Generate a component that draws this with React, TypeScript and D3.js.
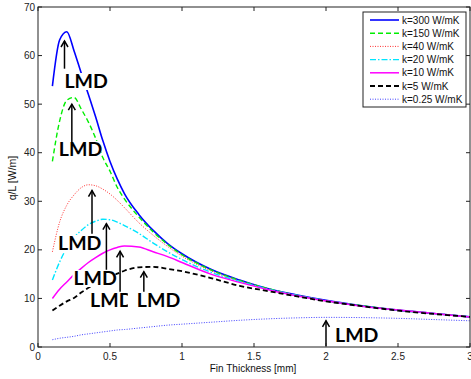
import * as d3 from 'd3';

const thickness = [0.1, 0.15, 0.2, 0.25, 0.3, 0.35, 0.4, 0.45, 0.5, 0.55, 0.6, 0.7, 0.8, 0.9, 1.0, 1.2, 1.4, 1.6, 1.8, 2.0, 2.25, 2.5, 2.75, 3.0];

const k300 = [53.7, 63.2, 64.9, 61.0, 56.4, 52.0, 47.4, 42.5, 38.2, 34.6, 31.6, 27.3, 24.0, 21.3, 19.2, 16.0, 13.8, 12.0, 10.7, 9.6, 8.5, 7.6, 6.9, 6.2];
const k150 = [38.2, 46.5, 50.8, 51.4, 49.0, 46.3, 43.0, 39.0, 36.2, 32.9, 30.5, 26.8, 23.7, 21.1, 19.0, 15.9, 13.7, 12.0, 10.6, 9.5, 8.5, 7.6, 6.9, 6.2];
const k40 = [19.6, 25.7, 29.2, 31.3, 32.8, 33.4, 33.2, 32.5, 31.5, 30.2, 28.7, 25.6, 23.0, 20.7, 18.7, 15.7, 13.6, 11.9, 10.6, 9.5, 8.4, 7.6, 6.9, 6.2];
const k20 = [13.8, 17.5, 20.4, 22.5, 24.0, 25.2, 25.9, 26.3, 26.2, 25.7, 25.0, 23.4, 21.4, 19.6, 18.0, 15.4, 13.5, 11.9, 10.6, 9.5, 8.4, 7.6, 6.9, 6.2];
const k10 = [10.0, 11.9, 13.4, 14.9, 16.2, 17.4, 18.4, 19.3, 20.0, 20.5, 20.8, 20.6, 19.6, 18.6, 17.4, 15.0, 13.3, 11.8, 10.5, 9.5, 8.4, 7.6, 6.9, 6.2];
const k5 = [7.5, 8.5, 9.4, 10.1, 11.2, 12.2, 13.0, 13.8, 14.5, 15.1, 15.7, 16.4, 16.5, 16.1, 15.6, 14.2, 12.6, 11.5, 10.4, 9.4, 8.4, 7.5, 6.8, 6.2];
const k025 = [1.5, 1.8, 2.0, 2.2, 2.5, 2.7, 2.9, 3.1, 3.3, 3.5, 3.6, 3.9, 4.2, 4.5, 4.7, 5.1, 5.5, 5.8, 6.0, 6.1, 6.05, 5.9, 5.65, 5.4];

const seriesLabels = ['k=300 W/mK', 'k=150 W/mK', 'k=40 W/mK', 'k=20 W/mK', 'k=10 W/mK', 'k=5 W/mK', 'k=0.25 W/mK'];
const seriesValues = [k300, k150, k40, k20, k10, k5, k025];

const xTicks = [0, 0.5, 1, 1.5, 2, 2.5, 3];
const yTicks = [0, 10, 20, 30, 40, 50, 60, 70];

// LMD markers: thickness, q/L at arrow tip and at arrow base
const lmdX = [0.184, 0.235, 0.375, 0.475, 0.57, 0.735, 2.0];
const lmdTip = [63.0, 50.0, 32.2, 25.4, 19.7, 15.5, 5.4];
const lmdBase = [57.3, 42.0, 23.3, 15.9, 11.4, 11.4, 0.2];

const STYLES = [
  { color: '#0000ff', width: 1.6, dash: '' },
  { color: '#00ee00', width: 1.4, dash: '5,3' },
  { color: '#ff3030', width: 1, dash: '1,1.5' },
  { color: '#00e5ff', width: 1.4, dash: '6,2,1.5,2' },
  { color: '#ff00ff', width: 1.5, dash: '' },
  { color: '#000000', width: 1.8, dash: '5,3' },
  { color: '#4040ff', width: 1, dash: '1,1.5' },
];

// text placement relative to each arrow: text left offset, baseline y, white box left pad
const LABEL_POS = [
  { dx: 0, y: 88, pad: 1 },
  { dx: -13, y: 156, pad: 1 },
  { dx: -34, y: 250, pad: 1 },
  { dx: -33, y: 285, pad: 1 },
  { dx: -30, y: 307, pad: 1 },
  { dx: -7, y: 307, pad: 9 },
  { dx: 9, y: 342, pad: 1 },
];

export default function App() {
  const W = 471;
  const H = 379;
  const margin = { left: 38, right: 1, top: 7, bottom: 32 };
  const x = d3.scaleLinear().domain([0, 3]).range([margin.left, W - margin.right]);
  const y = d3.scaleLinear().domain([0, 70]).range([H - margin.bottom, margin.top]);
  const x0 = margin.left;
  const x1 = W - margin.right;
  const y0 = H - margin.bottom;
  const y1 = margin.top;

  const line = d3
    .line<number>()
    .x((_, i) => x(thickness[i]))
    .y((d) => y(d))
    .curve(d3.curveMonotoneX);

  const font = 'Liberation Sans, Arial, sans-serif';

  return (
    <svg
      width={W}
      height={H}
      style={{ position: 'absolute', left: 0, top: 0, background: '#fff' }}
      fontFamily={font}
    >
      <defs>
        <clipPath id="plot">
          <rect x={x0} y={y1} width={x1 - x0} height={y0 - y1} />
        </clipPath>
      </defs>

      {/* curves */}
      <g clipPath="url(#plot)">
        {seriesValues.map((vals, i) => (
          <path
            key={i}
            d={line(vals) ?? ''}
            fill="none"
            stroke={STYLES[i].color}
            strokeWidth={STYLES[i].width}
            strokeDasharray={STYLES[i].dash}
          />
        ))}
      </g>

      {/* LMD arrows + labels */}
      {lmdX.map((t, i) => {
        const ax = x(t);
        const tip = y(lmdTip[i]);
        const base = y(lmdBase[i]);
        const lp = LABEL_POS[i];
        return (
          <g key={i}>
            <rect x={ax + lp.dx - lp.pad} y={lp.y - 15} width={42 + lp.pad} height={17} fill="#fff" />
            <text x={ax + lp.dx} y={lp.y} fontFamily="Lato, sans-serif" fontWeight="bold" fontSize={19.5} fill="#000">
              LMD
            </text>
            <line x1={ax} x2={ax} y1={tip} y2={base} stroke="#000" strokeWidth={1.5} />
            <path d={`M${ax - 3.5},${tip + 6} L${ax},${tip} L${ax + 3.5},${tip + 6}`} fill="none" stroke="#000" strokeWidth={1.5} />
          </g>
        );
      })}

      {/* frame */}
      <rect x={x0} y={y1} width={x1 - x0} height={y0 - y1} fill="none" stroke="#222" strokeWidth={1} />

      {/* ticks */}
      {xTicks.map((t) => (
        <g key={`x${t}`}>
          <line x1={x(t)} x2={x(t)} y1={y0} y2={y0 - 4} stroke="#222" />
          <line x1={x(t)} x2={x(t)} y1={y1} y2={y1 + 4} stroke="#222" />
          <text x={x(t)} y={y0 + 13} textAnchor="middle" fontSize={10} fill="#222">
            {t}
          </text>
        </g>
      ))}
      {yTicks.map((t) => (
        <g key={`y${t}`}>
          <line x1={x0} x2={x0 + 4} y1={y(t)} y2={y(t)} stroke="#222" />
          <line x1={x1} x2={x1 - 4} y1={y(t)} y2={y(t)} stroke="#222" />
          <text x={x0 - 3} y={y(t) + 3.5} textAnchor="end" fontSize={10} fill="#222">
            {t}
          </text>
        </g>
      ))}

      {/* axis labels */}
      <text x={253} y={372} textAnchor="middle" fontSize={10} fill="#111">
        Fin Thickness [mm]
      </text>
      <text transform="translate(16,178) rotate(-90)" textAnchor="middle" fontSize={10.5} fill="#111">
        q/L [W/m]
      </text>

      {/* legend */}
      <g transform="translate(363,12)">
        <rect x={0} y={0} width={103} height={95} fill="#fff" stroke="#222" strokeWidth={1} />
        {seriesLabels.map((lab, i) => (
          <g key={lab} transform={`translate(0,${8 + i * 13.2})`}>
            <line x1={7} x2={36} y1={0} y2={0} stroke={STYLES[i].color} strokeWidth={STYLES[i].width} strokeDasharray={STYLES[i].dash} />
            <text x={39} y={3.6} fontSize={10} fill="#111">
              {lab}
            </text>
          </g>
        ))}
      </g>
    </svg>
  );
}
